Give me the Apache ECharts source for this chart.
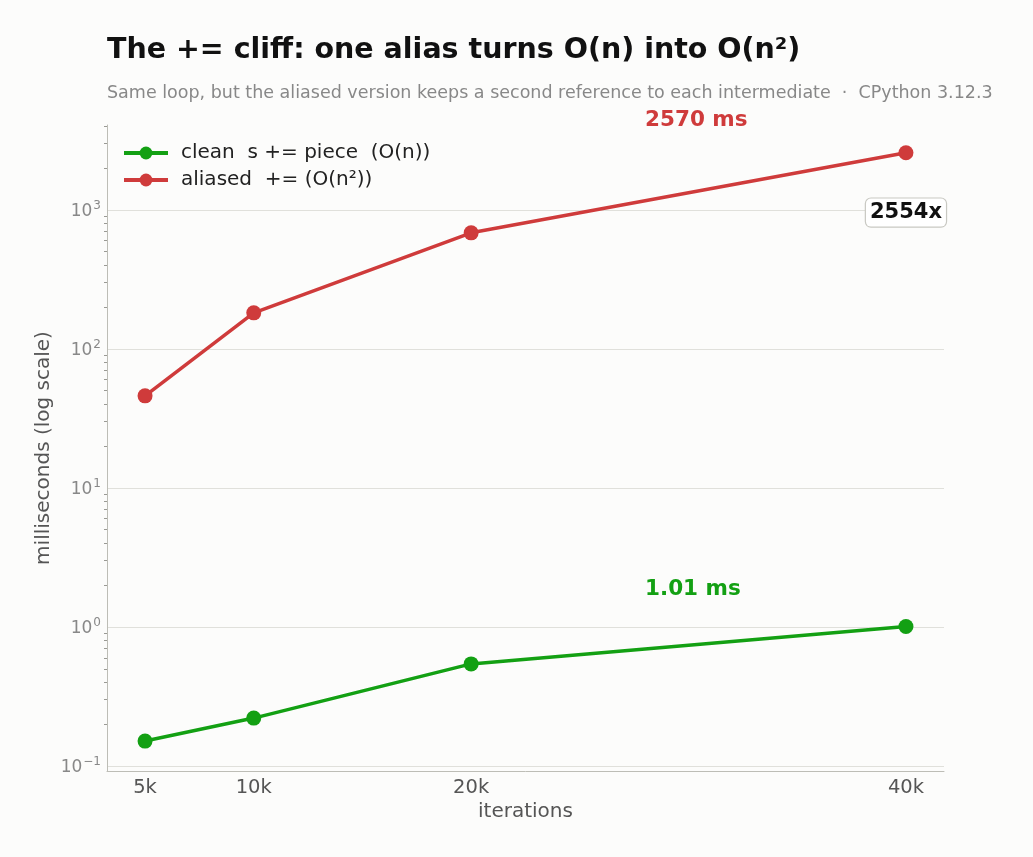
<!DOCTYPE html>
<html lang="en">
<head>
<meta charset="UTF-8" />
<title>The += cliff</title>
<style>
  html, body { margin: 0; padding: 0; background: #fcfcfb; }
  #main { width: 1033px; height: 857px; }
</style>
</head>
<body>
<div id="main"></div>
<script src="https://cdn.jsdelivr.net/npm/echarts@6/dist/echarts.min.js"></script>
<script>
// data
var iterations = [5000, 10000, 20000, 40000];
var xTickLabels = ["5k", "10k", "20k", "40k"];
var cleanMs = [0.151, 0.221, 0.542, 1.006];
var aliasedMs = [45.9, 181.6, 683, 2570];
var yMajor = [0.1, 1, 10, 100, 1000];
var yMajorExp = ["\u22121", "0", "1", "2", "3"];

// log minor ticks 2..9 x 10^n
var yMinor = [];
for (var n = -2; n <= 3; n++) {
  for (var k = 2; k <= 9; k++) {
    var v = k * Math.pow(10, n);
    if (v > 0.092 && v < 4074) yMinor.push(v);
  }
}

var green = "#13a013";
var red = "#cf3b3b";
var last = iterations.length - 1;
var ratio = Math.floor(aliasedMs[last] / cleanMs[last]);

var myChart = echarts.init(document.getElementById("main"));

var option = {
  backgroundColor: "#fcfcfb",
  animation: false,
  textStyle: { fontFamily: "DejaVu Sans" },
  title: [
    {
      text: "The += cliff: one alias turns O(n) into O(n\u00B2)",
      left: 102,
      top: 31,
      textStyle: { fontSize: 28.5, fontWeight: "bold", color: "#111" }
    },
    {
      text: "Same loop, but the aliased version keeps a second reference to each intermediate  \u00B7  CPython 3.12.3",
      left: 102,
      top: 79,
      textStyle: { fontSize: 17.5, fontWeight: "normal", color: "#888" }
    }
  ],
  legend: {
    left: 117,
    top: 138,
    orient: "vertical",
    itemWidth: 44,
    itemHeight: 16,
    itemGap: 7,
    textStyle: { fontSize: 20, color: "#222", padding: [0, 0, 0, 8] },
    data: [
      { name: "clean  s += piece  (O(n))", lineStyle: { width: 4 } },
      { name: "aliased  += (O(n\u00B2))", lineStyle: { width: 4 } }
    ]
  },
  grid: { left: 107, right: 89, top: 125, bottom: 86 },
  xAxis: {
    type: "value",
    min: 3250,
    max: 41750,
    name: "iterations",
    nameLocation: "middle",
    nameGap: 31,
    nameMoveOverlap: false,
    nameTextStyle: { fontSize: 20, color: "#555" },
    axisLine: { show: true, lineStyle: { color: "#bdbdb6", width: 1 } },
    axisTick: { show: false },
    splitLine: { show: false },
    axisLabel: {
      customValues: iterations,
      fontSize: 19.5,
      color: "#555",
      margin: 7,
      formatter: function (v) {
        return xTickLabels[iterations.indexOf(v)];
      }
    }
  },
  yAxis: [
    {
      type: "log",
      logBase: 10,
      min: 0.092,
      max: 4074,
      name: "milliseconds (log scale)",
      nameLocation: "middle",
      nameGap: 53,
      nameMoveOverlap: false,
      nameTextStyle: { fontSize: 20, color: "#555" },
      axisLine: { show: true, lineStyle: { color: "#bdbdb6", width: 1 } },
      axisTick: { show: false, customValues: yMajor },
      splitLine: { show: true, lineStyle: { color: "#e0e0db", width: 1.2 } },
      axisLabel: {
        customValues: yMajor,
        color: "#888",
        margin: 6,
        formatter: function (v) {
          var i = Math.round(Math.log10(v)) + 1;
          return "{b|10}{s|" + yMajorExp[i] + "}";
        },
        rich: {
          b: { fontSize: 17, color: "#888", verticalAlign: "bottom" },
          s: { fontSize: 12, color: "#888", verticalAlign: "bottom", padding: [0, 0, 8, 1] }
        }
      }
    },
    {
      type: "log",
      logBase: 10,
      min: 0.092,
      max: 4074,
      position: "left",
      axisLine: { show: false },
      axisLabel: { show: false },
      splitLine: { show: false },
      axisTick: {
        show: true,
        customValues: yMinor,
        length: 3,
        lineStyle: { color: "#9a9a94", width: 1 }
      }
    }
  ],
  series: [
    {
      name: "clean  s += piece  (O(n))",
      type: "line",
      data: iterations.map(function (x, i) { return [x, cleanMs[i]]; }),
      symbol: "circle",
      symbolSize: 15,
      lineStyle: { width: 3.5, color: green },
      itemStyle: { color: green },
      z: 3
    },
    {
      name: "aliased  += (O(n\u00B2))",
      type: "line",
      data: iterations.map(function (x, i) { return [x, aliasedMs[i]]; }),
      symbol: "circle",
      symbolSize: 15,
      lineStyle: { width: 3.5, color: red },
      itemStyle: { color: red },
      z: 3,
      markPoint: {
        symbol: "circle",
        symbolSize: 0,
        data: [
          {
            coord: [iterations[last], 955],
            label: {
              show: true,
              position: "inside",
              formatter: ratio + "x",
              fontSize: 21,
              fontWeight: "bold",
              color: "#111",
              backgroundColor: "#ffffff",
              borderColor: "#c8c8c2",
              borderWidth: 1.2,
              borderRadius: 5,
              padding: [4, 4, 3, 4]
            }
          }
        ]
      }
    }
  ],
  graphic: [
    {
      type: "text",
      left: 645,
      top: 109,
      style: {
        text: aliasedMs[last] + " ms",
        font: "bold 21.5px 'DejaVu Sans'",
        fill: red
      }
    },
    {
      type: "text",
      left: 645,
      top: 578,
      style: {
        text: cleanMs[last].toFixed(2) + " ms",
        font: "bold 21.5px 'DejaVu Sans'",
        fill: green
      }
    }
  ]
};

myChart.setOption(option);
</script>
</body>
</html>
